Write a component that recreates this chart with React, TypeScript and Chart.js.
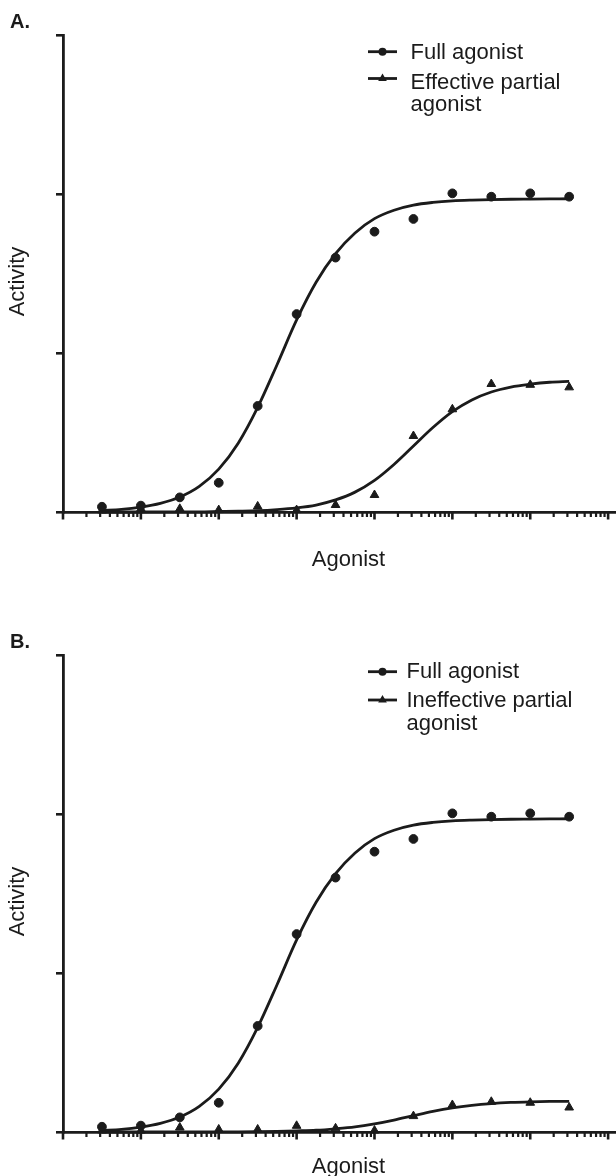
import React, { useEffect, useRef } from 'react';
import { Chart, registerables } from 'chart.js';

Chart.register(...registerables);

// ---- data (log10 of agonist concentration, activity in axis units) ----
const pointLogConc = [-9.5, -9, -8.5, -8, -7.5, -7, -6.5, -6, -5.5, -5, -4.5, -4, -3.5];
const fullAgonistPoints = [0.033, 0.04, 0.092, 0.184, 0.667, 1.245, 1.6, 1.763, 1.843, 2.004, 1.983, 2.004, 1.983];
const effectivePartialPoints = [0.01, 0.02, 0.02, 0.012, 0.035, 0.012, 0.044, 0.107, 0.478, 0.646, 0.805, 0.8, 0.784];
const ineffectivePartialPoints = [0.01, 0.009, 0.028, 0.016, 0.016, 0.039, 0.023, 0.009, 0.1, 0.17, 0.19, 0.184, 0.154];

const curveLogConc = [-9.5, -9.25, -9, -8.75, -8.5, -8.25, -8, -7.75, -7.5, -7.25, -7, -6.75, -6.5, -6.25, -6, -5.75, -5.5, -5.25, -5, -4.75, -4.5, -4.25, -4, -3.75, -3.5];
const fullAgonistCurve = [0.01, 0.017, 0.031, 0.054, 0.094, 0.161, 0.27, 0.433, 0.658, 0.928, 1.208, 1.445, 1.625, 1.755, 1.845, 1.898, 1.93, 1.947, 1.957, 1.962, 1.965, 1.967, 1.968, 1.969, 1.97];
const effectivePartialCurve = [0, 0, 0, 0.001, 0.001, 0.001, 0.003, 0.005, 0.008, 0.015, 0.026, 0.044, 0.076, 0.125, 0.199, 0.299, 0.415, 0.531, 0.631, 0.705, 0.755, 0.786, 0.804, 0.816, 0.822];
const ineffectivePartialCurve = [0, 0, 0, 0, 0, 0, 0.001, 0.001, 0.002, 0.004, 0.007, 0.011, 0.02, 0.032, 0.051, 0.075, 0.103, 0.13, 0.152, 0.168, 0.179, 0.186, 0.19, 0.192, 0.193];

const yTickValues = [0, 1, 2, 3];
const xTickDecades = [-10, -9, -8, -7, -6, -5, -4, -3];
const xTickMultipliers = [1, 2, 3, 4, 5, 6, 7, 8, 9];

const xAxisTitle = 'Agonist';
const yAxisTitle = 'Activity';
const fullLabel = ['Full agonist'];
const effectiveLabel = ['Effective partial', 'agonist'];
const ineffectiveLabel = ['Ineffective partial', 'agonist'];

const INK = '#1b1b1b';
const FONT = '"Liberation Sans", Arial, Helvetica, sans-serif';
const TEXT_SIZE = 22;

type LegendItem = { lines: string[]; style: 'circle' | 'triangle'; lineY: number; baselines: number[] };
type PanelSpec = {
  label: string;
  partialPoints: number[];
  partialCurve: number[];
  partialLabel: string[];
  height: number;
  xAxisHeight: number;
  xTitlePad: number;
  textX: number;
  legend: LegendItem[];
};

const toXY = (logs: number[], vals: number[]) => logs.map((l, i) => ({ x: Math.pow(10, l), y: vals[i] }));

function drawMarker(ctx: CanvasRenderingContext2D, style: string, x: number, y: number, r: number) {
  ctx.beginPath();
  if (style === 'circle') {
    ctx.arc(x, y, r, 0, Math.PI * 2);
  } else {
    const s = Math.sqrt(3) / 2;
    ctx.moveTo(x, y - r);
    ctx.lineTo(x + r * s, y + r / 2);
    ctx.lineTo(x - r * s, y + r / 2);
    ctx.closePath();
  }
  ctx.fill();
}

function makeDecor(spec: PanelSpec) {
  return {
    id: 'decor' + spec.label,
    afterDraw(chart: any) {
      const ctx: CanvasRenderingContext2D = chart.ctx;
      const xs = chart.scales.x;
      const area = chart.chartArea;
      const base = area.bottom;
      ctx.save();
      ctx.strokeStyle = INK;
      ctx.fillStyle = INK;
      // x axis log ticks
      for (const e of xTickDecades) {
        for (const m of xTickMultipliers) {
          const v = m * Math.pow(10, e);
          if (v < xs.min * 0.999 || v > xs.max) continue;
          const px = xs.getPixelForValue(v);
          ctx.lineWidth = m === 1 ? 2.6 : 2.2;
          ctx.beginPath();
          ctx.moveTo(px, base);
          ctx.lineTo(px, base + (m === 1 ? 7.5 : 5));
          ctx.stroke();
        }
      }
      // y axis title (slightly below the axis centre, as in the source figure)
      ctx.save();
      ctx.font = `${TEXT_SIZE}px ${FONT}`;
      ctx.textAlign = 'center';
      ctx.textBaseline = 'middle';
      ctx.translate(18, (area.top + area.bottom) / 2 + 8);
      ctx.rotate(-Math.PI / 2);
      ctx.fillText(yAxisTitle, 0, 0);
      ctx.restore();
      // legend
      ctx.font = `${TEXT_SIZE}px ${FONT}`;
      ctx.textAlign = 'left';
      ctx.textBaseline = 'alphabetic';
      for (const item of spec.legend) {
        ctx.lineWidth = 2.8;
        ctx.beginPath();
        ctx.moveTo(368, item.lineY);
        ctx.lineTo(397, item.lineY);
        ctx.stroke();
        drawMarker(ctx, item.style, 382.5, item.lineY, item.style === 'circle' ? 4 : 5);
        item.lines.forEach((t, i) => ctx.fillText(t, spec.textX, item.baselines[i]));
      }
      // panel label
      ctx.font = `bold 20px ${FONT}`;
      ctx.fillText(spec.label, 10, 28);
      ctx.restore();
    },
  };
}

function buildConfig(spec: PanelSpec): any {
  const pointBase = { showLine: false, pointBackgroundColor: INK, pointBorderColor: INK, pointBorderWidth: 1, clip: false };
  const lineBase = { showLine: true, pointRadius: 0, borderColor: INK, borderWidth: 2.8, cubicInterpolationMode: 'monotone', fill: false, clip: false };
  return {
    type: 'line',
    data: {
      datasets: [
        { ...pointBase, label: fullLabel.join(' '), data: toXY(pointLogConc, fullAgonistPoints), pointStyle: 'circle', pointRadius: 4.4 },
        { ...pointBase, label: spec.partialLabel.join(' '), data: toXY(pointLogConc, spec.partialPoints), pointStyle: 'triangle', pointRadius: 5 },
        { ...lineBase, label: 'full fit', data: toXY(curveLogConc, fullAgonistCurve) },
        { ...lineBase, label: 'partial fit', data: toXY(curveLogConc, spec.partialCurve) },
      ],
    },
    options: {
      animation: false,
      responsive: false,
      events: [],
      layout: { padding: { top: 35, left: 0, right: 3, bottom: 0 } },
      plugins: { legend: { display: false }, tooltip: { enabled: false } },
      scales: {
        x: {
          type: 'logarithmic',
          min: 1e-10,
          max: 2.15e-3,
          ticks: { display: false },
          grid: { display: false },
          border: { display: true, width: 2.8, color: INK },
          title: { display: true, text: xAxisTitle, color: INK, font: { family: FONT, size: TEXT_SIZE }, padding: { top: 0, bottom: spec.xTitlePad } },
          afterFit: (s: any) => { s.height = spec.xAxisHeight; },
        },
        y: {
          type: 'linear',
          min: yTickValues[0],
          max: yTickValues[yTickValues.length - 1],
          afterBuildTicks: (s: any) => { s.ticks = yTickValues.map((v) => ({ value: v })); },
          ticks: { display: false, stepSize: 1 },
          grid: { drawOnChartArea: false, drawTicks: true, tickLength: 7, lineWidth: 2.6, color: INK },
          border: { display: true, width: 2.8, color: INK },
          title: { display: false },
          afterFit: (s: any) => { s.width = 63; },
        },
      },
    },
    plugins: [makeDecor(spec)],
  };
}

const panelA: PanelSpec = {
  label: 'A.',
  partialPoints: effectivePartialPoints,
  partialCurve: effectivePartialCurve,
  partialLabel: effectiveLabel,
  height: 580,
  xAxisHeight: 68,
  xTitlePad: 7,
  textX: 410.5,
  legend: [
    { lines: fullLabel, style: 'circle', lineY: 51.7, baselines: [58.5] },
    { lines: effectiveLabel, style: 'triangle', lineY: 78.5, baselines: [89, 110.5] },
  ],
};

const panelB: PanelSpec = {
  label: 'B.',
  partialPoints: ineffectivePartialPoints,
  partialCurve: ineffectivePartialCurve,
  partialLabel: ineffectiveLabel,
  height: 560,
  xAxisHeight: 48,
  xTitlePad: 0,
  textX: 406.5,
  legend: [
    { lines: fullLabel, style: 'circle', lineY: 51.7, baselines: [58] },
    { lines: ineffectiveLabel, style: 'triangle', lineY: 80, baselines: [87, 109.5] },
  ],
};

function Panel({ spec, top }: { spec: PanelSpec; top: number }) {
  const ref = useRef<HTMLCanvasElement | null>(null);
  useEffect(() => {
    if (!ref.current) return;
    const chart = new Chart(ref.current, buildConfig(spec));
    return () => chart.destroy();
  }, [spec]);
  return (
    <div style={{ position: 'absolute', left: 0, top, width: 640, height: spec.height }}>
      <canvas ref={ref} width={640} height={spec.height} style={{ display: 'block' }} />
    </div>
  );
}

export default function App() {
  return (
    <div style={{ position: 'absolute', left: 0, top: 0, width: 616, height: 1176, overflow: 'hidden', background: '#ffffff' }}>
      <Panel spec={panelA} top={0} />
      <Panel spec={panelB} top={620} />
    </div>
  );
}
